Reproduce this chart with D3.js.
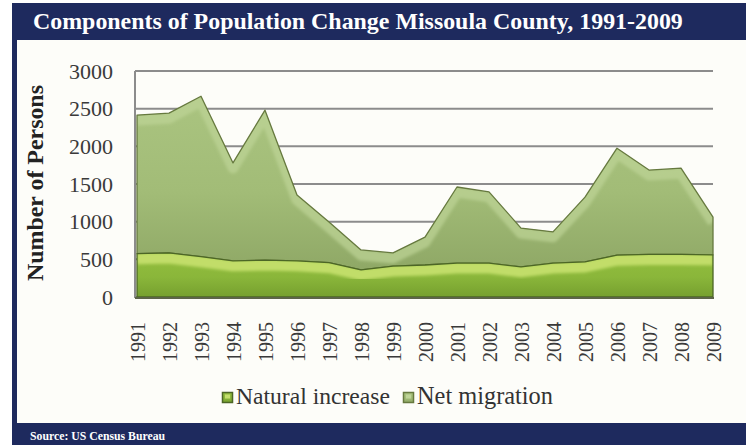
<!DOCTYPE html>
<html>
<head>
<meta charset="utf-8">
<script src="https://cdn.jsdelivr.net/npm/d3@7"></script>
<style>
  body { margin: 0; background: #ffffff; }
  svg { display: block; }
</style>
</head>
<body>
<svg id="chart" width="746" height="445"></svg>
<script>
// Components of population change, Missoula County (persons per year)
const years = [1991, 1992, 1993, 1994, 1995, 1996, 1997, 1998, 1999, 2000,
               2001, 2002, 2003, 2004, 2005, 2006, 2007, 2008, 2009];
const naturalIncrease = [575, 585, 535, 480, 490, 480, 455, 360, 410, 425,
                         450, 450, 400, 450, 465, 555, 565, 565, 560];
const netMigration = [1840, 1855, 2130, 1300, 1990, 875, 540, 265, 175, 370,
                      1010, 945, 515, 415, 860, 1420, 1120, 1145, 500];
const yTicks = [0, 500, 1000, 1500, 2000, 2500, 3000];
const seriesNames = ["Natural increase", "Net migration"];

const titleText = "Components of Population Change Missoula County, 1991-2009";
const sourceText = "Source: US Census Bureau";
const yAxisTitle = "Number of Persons";

const W = 746, H = 445;
const navy = "#1e2a5e";
const serif = "'Liberation Serif', 'DejaVu Serif', serif";

const svg = d3.select("#chart");
const defs = svg.append("defs");

// scale a text's font size so that it spans the given width
function fitWidth(sel, width) {
  const node = sel.node();
  const size = parseFloat(sel.attr("font-size"));
  const w = node.getComputedTextLength();
  if (w > 0) sel.attr("font-size", (size * width / w).toFixed(2));
  return sel;
}

// Frame: navy band with a light panel inside
svg.append("rect").attr("width", W).attr("height", H).attr("fill", "#ffffff");
svg.append("rect").attr("x", 12).attr("y", 3).attr("width", W - 12).attr("height", H - 3).attr("fill", navy);
svg.append("rect").attr("x", 17).attr("y", 40).attr("width", W - 17).attr("height", 383).attr("fill", "#fdfdf9");

fitWidth(svg.append("text")
  .attr("x", 33).attr("y", 29)
  .attr("font-family", serif).attr("font-size", 21).attr("font-weight", "bold")
  .attr("fill", "#ffffff")
  .text(titleText), 650);

fitWidth(svg.append("text")
  .attr("x", 30).attr("y", 440)
  .attr("font-family", serif).attr("font-size", 13).attr("font-weight", "bold")
  .attr("fill", "#ffffff")
  .text(sourceText), 135);

// Scales
const plot = { left: 137, right: 713, top: 71, bottom: 297 };
const x = d3.scalePoint().domain(years).range([plot.left, plot.right]);
const y = d3.scaleLinear().domain([0, 3000]).range([plot.bottom, plot.top]);

// Gridlines
svg.append("g")
  .selectAll("line")
  .data(yTicks)
  .join("line")
  .attr("x1", plot.left - 2).attr("x2", plot.right)
  .attr("y1", d => y(d)).attr("y2", d => y(d))
  .attr("stroke", "#8c8c8c").attr("stroke-width", 2);

svg.append("line")
  .attr("x1", plot.left - 2).attr("x2", plot.left - 2)
  .attr("y1", plot.top).attr("y2", plot.bottom + 1)
  .attr("stroke", "#8c8c8c").attr("stroke-width", 2);

// Y axis labels
const yAxis = d3.axisLeft(y).tickValues(yTicks).tickSize(0).tickPadding(0).tickFormat(d3.format("d"));
const yAxisG = svg.append("g").attr("transform", `translate(${plot.left - 24},0)`).call(yAxis);
yAxisG.select(".domain").remove();
yAxisG.selectAll("text")
  .attr("font-family", serif).attr("font-size", 22).attr("fill", "#3a3a3a");

// X axis labels (rotated)
const xAxis = d3.axisBottom(x).tickSize(0).tickPadding(0);
const xAxisG = svg.append("g").attr("transform", `translate(0,${plot.bottom + 25})`).call(xAxis);
xAxisG.select(".domain").remove();
xAxisG.selectAll("text")
  .attr("font-family", serif).attr("font-size", 20).attr("fill", "#3a3a3a")
  .attr("text-anchor", "end")
  .attr("dy", "0.35em")
  .attr("y", 0)
  .attr("transform", "rotate(-90)");

// Y axis title
fitWidth(svg.append("text")
  .attr("transform", "translate(43,183) rotate(-90)")
  .attr("text-anchor", "middle")
  .attr("font-family", serif).attr("font-size", 22).attr("font-weight", "bold")
  .attr("fill", "#222222")
  .text(yAxisTitle), 196);

// Stacked areas
const rows = years.map((yr, i) => ({ year: yr, natural: naturalIncrease[i], migration: netMigration[i] }));
const stack = d3.stack().keys(["natural", "migration"]);
const layers = stack(rows);

const styles = [
  { top: "#94bf3e", mid: "#8ab63a", bottom: "#76a02f", hi: "#c4df6c", edge: "#4c6626" },
  { top: "#aac480", mid: "#a2bc77", bottom: "#8fa866", hi: "#bed497", edge: "#66793f" }
];

styles.forEach((s, i) => {
  const g = defs.append("linearGradient").attr("id", "grad" + i)
    .attr("x1", 0).attr("y1", 0).attr("x2", 0).attr("y2", 1);
  g.append("stop").attr("offset", "0%").attr("stop-color", s.top);
  g.append("stop").attr("offset", "55%").attr("stop-color", s.mid);
  g.append("stop").attr("offset", "100%").attr("stop-color", s.bottom);
});

defs.append("filter").attr("id", "soft").attr("x", "-5%").attr("y", "-20%").attr("width", "110%").attr("height", "140%")
  .append("feGaussianBlur").attr("stdDeviation", 1.6);

const area = d3.area()
  .x(d => x(d.data.year))
  .y0(d => y(d[0]))
  .y1(d => y(d[1]));
const topLine = d3.line()
  .x(d => x(d.data.year))
  .y(d => y(d[1]));

const areasG = svg.append("g");
// draw net migration first so natural increase sits in front
[1, 0].forEach(i => {
  const layer = layers[i];
  const s = styles[i];
  defs.append("clipPath").attr("id", "clip" + i)
    .append("path").attr("d", area(layer));
  areasG.append("path")
    .attr("d", area(layer))
    .attr("fill", `url(#grad${i})`);
  // lighter top face just below the upper edge
  areasG.append("g")
    .attr("clip-path", `url(#clip${i})`)
    .append("path")
    .attr("d", topLine(layer))
    .attr("fill", "none")
    .attr("stroke", s.hi)
    .attr("stroke-width", 11)
    .attr("stroke-opacity", i === 0 ? 0.95 : 0.7)
    .attr("stroke-linejoin", "round")
    .attr("transform", "translate(0,5)")
    .attr("filter", "url(#soft)");
  areasG.append("path")
    .attr("d", area(layer))
    .attr("fill", "none")
    .attr("stroke", s.edge)
    .attr("stroke-width", 1.3)
    .attr("stroke-linejoin", "round");
});

// floor edge
svg.append("line")
  .attr("x1", plot.left - 2).attr("x2", plot.right + 1)
  .attr("y1", plot.bottom + 1).attr("y2", plot.bottom + 1)
  .attr("stroke", "#5c6448").attr("stroke-width", 2);

// Legend
const legend = svg.append("g").attr("transform", "translate(222,392)");
const legendItems = [
  { name: seriesNames[0], style: styles[0], x: 0, width: 154 },
  { name: seriesNames[1], style: styles[1], x: 181, width: 136 }
];
legendItems.forEach((it, i) => {
  const g = legend.append("g").attr("transform", `translate(${it.x},0)`);
  g.append("rect").attr("x", 0.5).attr("y", 0.5).attr("width", 10).attr("height", 10)
    .attr("fill", `url(#grad${i})`).attr("stroke", it.style.edge).attr("stroke-width", 1.5);
  g.append("rect").attr("x", 3).attr("y", 2.5).attr("width", 5).attr("height", 4)
    .attr("fill", it.style.hi);
  fitWidth(g.append("text")
    .attr("x", 14).attr("y", 12)
    .attr("font-family", serif).attr("font-size", 20).attr("fill", "#333333")
    .text(it.name), it.width);
});
</script>
</body>
</html>
